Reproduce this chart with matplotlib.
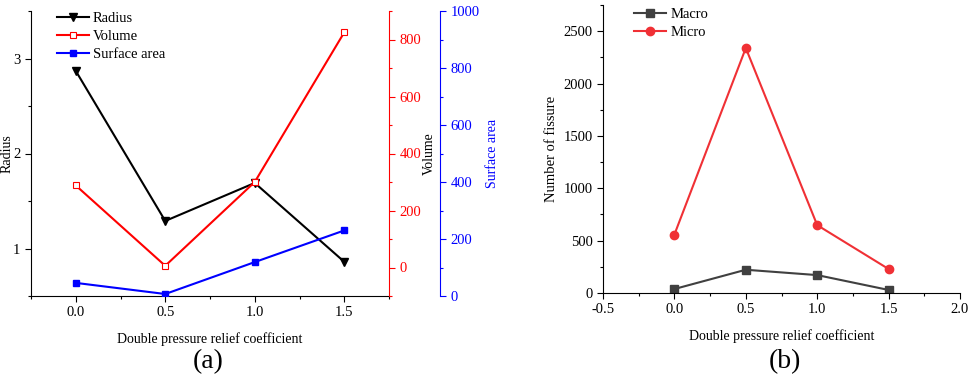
import matplotlib.pyplot as plt
import numpy as np
from matplotlib.ticker import MultipleLocator

plt.rcParams['font.family'] = ['Liberation Serif', 'DejaVu Serif']
plt.rcParams['font.size'] = 10
plt.rcParams['axes.unicode_minus'] = False

# data
coef = [0.0, 0.5, 1.0, 1.5]
radius = [2.87, 1.29, 1.69, 0.86]
volume = [288, 6, 300, 825]
surface_area = [46, 7, 119, 230]
macro = [38, 222, 171, 29]
micro = [558, 2339, 648, 229]

W, H = 969, 377
fig = plt.figure(figsize=(W / 100, H / 100), dpi=100)

def box(l, t, r, b):
    return [l / W, 1 - b / H, (r - l) / W, (b - t) / H]

def tick_style(ax, color='black'):
    ax.tick_params(which='major', direction='out', length=4, width=0.8, colors=color, labelsize=10.5)
    ax.tick_params(which='minor', direction='out', length=2, width=0.8, colors=color)

# ---- panel (a)
ax = fig.add_axes(box(31, 11, 389, 296))
ax.spines['top'].set_visible(False)
ax.spines['right'].set_visible(False)
l1, = ax.plot(coef, radius, color='black', marker='v', ms=6, lw=1.5, label='Radius')
ax.set_xlim(-0.25, 1.75)
ax.set_ylim(0.5, 3.5)
ax.set_xticks(coef)
ax.xaxis.set_minor_locator(MultipleLocator(0.25))
ax.yaxis.set_major_locator(MultipleLocator(1))
ax.yaxis.set_minor_locator(MultipleLocator(0.5))
tick_style(ax)
ax.set_ylabel('Radius', fontsize=10, labelpad=0)
ax.set_xlabel('Double pressure relief coefficient', fontsize=10, labelpad=9)

ax2 = ax.twinx()
for s in ['top', 'left', 'bottom']:
    ax2.spines[s].set_visible(False)
ax2.spines['right'].set_color('red')
l2, = ax2.plot(coef, volume, color='red', marker='s', ms=5, mfc='white', mec='red',
               mew=0.8, lw=1.5, label='Volume')
ax2.set_ylim(-100, 900)
ax2.yaxis.set_major_locator(MultipleLocator(200))
ax2.yaxis.set_minor_locator(MultipleLocator(100))
tick_style(ax2, 'red')
ax2.set_ylabel('Volume', fontsize=10, color='black', labelpad=1)

ax3 = ax.twinx()
for s in ['top', 'left', 'bottom']:
    ax3.spines[s].set_visible(False)
ax3.spines['right'].set_position(('axes', 51 / 358 + 1))
ax3.spines['right'].set_color('blue')
l3, = ax3.plot(coef, surface_area, color='blue', marker='s', ms=5, lw=1.5, label='Surface area')
ax3.set_ylim(0, 1000)
ax3.yaxis.set_major_locator(MultipleLocator(200))
ax3.yaxis.set_minor_locator(MultipleLocator(100))
tick_style(ax3, 'blue')
ax3.set_ylabel('Surface area', fontsize=10, color='blue', labelpad=5)

ax.legend(handles=[l1, l2, l3], loc='upper left', bbox_to_anchor=(0.055, 1.016),
          frameon=False, fontsize=10.5, handlelength=2.2, handletextpad=0.3,
          labelspacing=0.3, borderaxespad=0)
fig.text(208 / W, 1 - 362 / H, '(a)', fontsize=20, ha='center', va='center')

# ---- panel (b)
bx = fig.add_axes(box(603, 5, 960, 293))
bx.spines['top'].set_visible(False)
bx.spines['right'].set_visible(False)
m1, = bx.plot(coef, macro, color='#404040', marker='s', ms=5.5, lw=1.5, label='Macro')
m2, = bx.plot(coef, micro, color='#f03035', marker='o', ms=6, lw=1.5, label='Micro')
bx.set_xlim(-0.5, 2.0)
bx.set_ylim(0, 2750)
bx.xaxis.set_major_locator(MultipleLocator(0.5))
bx.xaxis.set_minor_locator(MultipleLocator(0.25))
bx.yaxis.set_major_locator(MultipleLocator(500))
bx.yaxis.set_minor_locator(MultipleLocator(250))
tick_style(bx)
bx.set_ylabel('Number of fissure', fontsize=10.5)
bx.set_xlabel('Double pressure relief coefficient', fontsize=10, labelpad=9)
bx.legend(loc='upper left', bbox_to_anchor=(0.07, 1.01), frameon=False, fontsize=10.5,
          handlelength=2.2, handletextpad=0.3, labelspacing=0.3, borderaxespad=0)
fig.text(785 / W, 1 - 362 / H, '(b)', fontsize=20, ha='center', va='center')

fig.savefig('out.png', dpi=100)
